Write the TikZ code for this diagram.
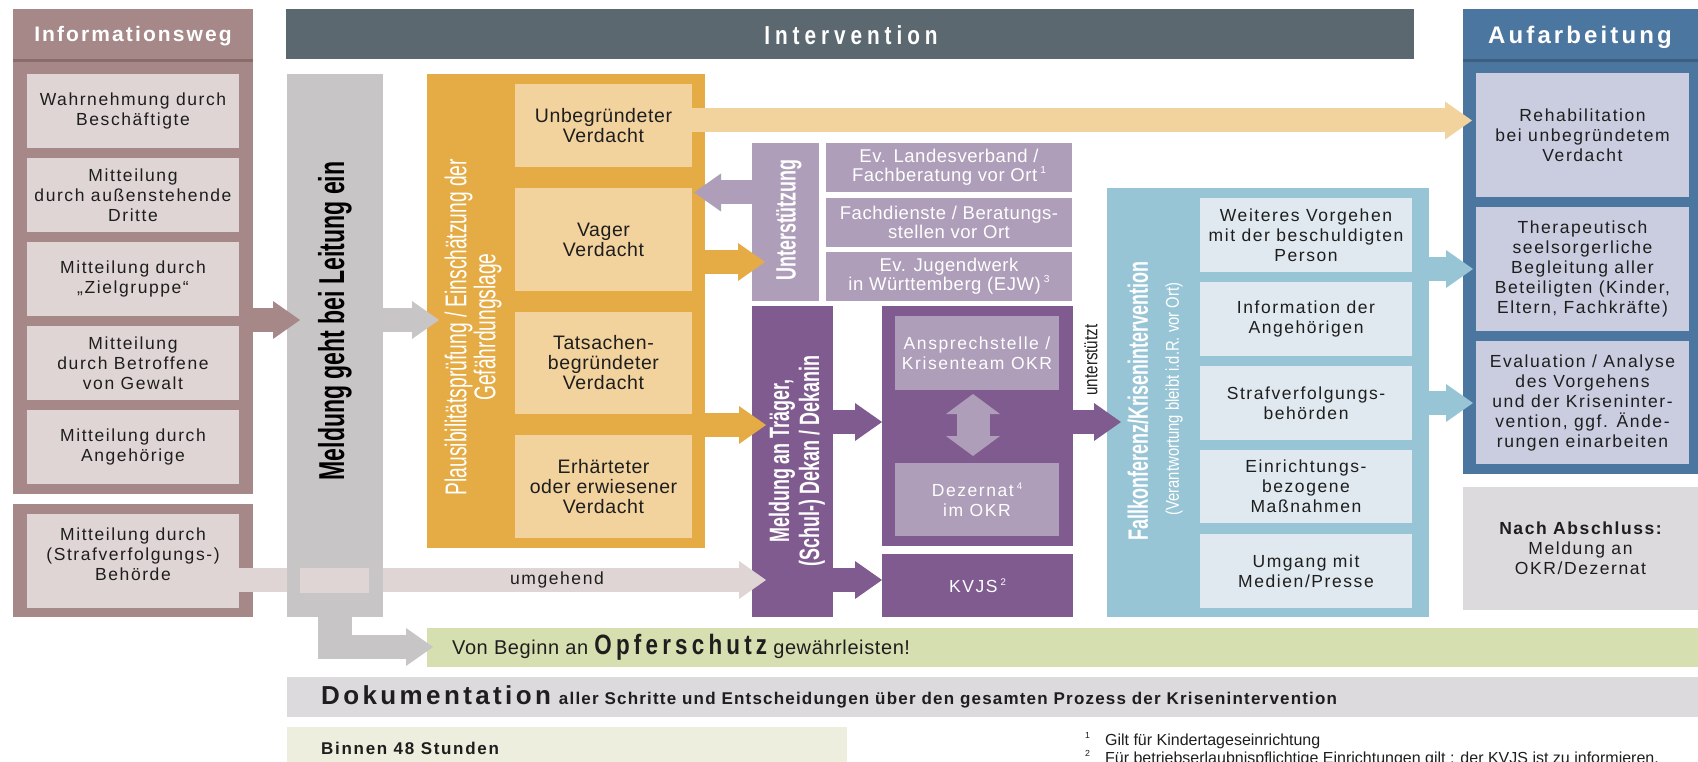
\documentclass[tikz,border=0pt]{standalone}
\usepackage{fontspec}
\setmainfont{Liberation Sans}
\newfontfamily\fA[LetterSpace=9]{Liberation Sans}
\newfontfamily\fH[LetterSpace=10]{Liberation Sans}
\newfontfamily\fK[FakeStretch=0.64]{Liberation Sans}
\newfontfamily\fM[FakeStretch=0.8]{Liberation Sans}
\newfontfamily\fT[LetterSpace=3]{Liberation Sans}
\newfontfamily\fP{Liberation Sans}
\usetikzlibrary{arrows.meta,calc}
\definecolor{mauve}{HTML}{A58887}
\definecolor{mauvedk}{HTML}{8A6C6B}
\definecolor{pinkbox}{HTML}{E0D5D5}
\definecolor{greycol}{HTML}{C8C5C7}
\definecolor{slate}{HTML}{5C6870}
\definecolor{orange1}{HTML}{E5AC46}
\definecolor{orange2}{HTML}{F2D29D}
\definecolor{lpurple}{HTML}{AE9EB9}
\definecolor{dpurple}{HTML}{805B8F}
\definecolor{lblue}{HTML}{98C5D5}
\definecolor{vlblue}{HTML}{DFE9EF}
\definecolor{dblue}{HTML}{4B76A0}
\definecolor{dbluedk}{HTML}{3D5F82}
\definecolor{lavender}{HTML}{CACCE0}
\definecolor{lgrey}{HTML}{DDDADD}
\definecolor{green1}{HTML}{D6DFB0}
\definecolor{cream}{HTML}{EDEEDE}
\definecolor{tx}{HTML}{1E1E1E}
\newcommand\sups[1]{\raisebox{0.8ex}{\scalebox{0.55}{#1}}}
\begin{document}
\begin{tikzpicture}[x=1pt,y=-1pt,
  bx/.style 2 args={anchor=north west, inner sep=0pt, outer sep=0pt, align=center, minimum width=#1, minimum height=#2},
  txt/.style={font=\fA\fontsize{17.5}{20}\selectfont, text=tx},
  wtxt/.style={font=\fA\fontsize{17.5}{20}\selectfont, text=white},
  otxt/.style={font=\fT\fontsize{19.5}{20}\selectfont, text=tx},
  evtxt/.style={font=\fT\fontsize{18.5}{19}\selectfont, text=white},
  fa/.style={line width=24pt, -{Triangle[length=27pt 0 0, width=38pt 0 0, line width=0pt 0 0]}},
  ]
\fill[white] (0,0) rectangle (1698,762);
\useasboundingbox (0,0) rectangle (1698,762);
% y levels
\coordinate (yHdr) at (0,60.5);
\coordinate (yA) at (0,320);
\coordinate (yB) at (0,120.5);
\coordinate (yC) at (0,192.5);
\coordinate (yD) at (0,262);
\coordinate (yE) at (0,425);
\coordinate (yF) at (0,422);
\coordinate (yG) at (0,580);
\coordinate (yH) at (0,269);
\coordinate (yI) at (0,403);
\coordinate (yJ) at (0,647);
% Informationsweg
\node[bx={240pt}{485pt}, fill=mauve] (infocol) at (13,9) {};
\node[font=\fH\bfseries\fontsize{21}{21}\selectfont, text=white] (infohdr) at (133,36) {Informationsweg};
\draw[mauvedk, line width=3pt] (infocol.west |- yHdr) -- (infocol.east |- yHdr);
\node[bx={212pt}{74pt}, fill=pinkbox, txt] (i1) at (27,74) {Wahrnehmung durch\\Beschäftigte};
\node[bx={212pt}{74pt}, fill=pinkbox, txt] (i2) at (27,158) {Mitteilung\\durch außenstehende\\Dritte};
\node[bx={212pt}{74pt}, fill=pinkbox, txt] (i3) at (27,242) {Mitteilung durch\\„Zielgruppe“};
\node[bx={212pt}{74pt}, fill=pinkbox, txt] (i4) at (27,326) {Mitteilung\\durch Betroffene\\von Gewalt};
\node[bx={212pt}{74pt}, fill=pinkbox, txt] (i5) at (27,410) {Mitteilung durch\\Angehörige};
\node[bx={240pt}{113pt}, fill=mauve] (behcol) at (13,504) {};
\node[bx={212pt}{94pt}, fill=pinkbox] (beh) at (27,514) {};
\node[txt, align=center] (behtxt) at (133,554) {Mitteilung durch\\(Strafverfolgungs-)\\Behörde};
% Intervention header
\node[bx={1128pt}{50pt}, fill=slate] (intbar) at (286,9) {};
\node[font=\fM\bfseries\fontsize{26}{26}\selectfont\addfontfeature{LetterSpace=19}, text=white] (inthdr) at (851,35) {Intervention};
% Orange block
\node[bx={278pt}{474pt}, fill=orange1] (plaus) at (427,74) {};
\node[rotate=90, align=center, text=white, font=\fK\fontsize{30}{29}\selectfont] (plaustxt) at (473,327) {Plausibilitätsprüfung / Einschätzung der\\Gefährdungslage};
\node[bx={177pt}{83pt}, fill=orange2, otxt] (o1) at (515,84) {Unbegründeter\\Verdacht};
\node[bx={177pt}{103pt}, fill=orange2, otxt] (o2) at (515,188) {Vager\\Verdacht};
\node[bx={177pt}{102pt}, fill=orange2, otxt] (o3) at (515,312) {Tatsachen-\\begründeter\\Verdacht};
\node[bx={177pt}{103pt}, fill=orange2, otxt] (o4) at (515,435) {Erhärteter\\oder erwiesener\\Verdacht};
% Unterstuetzung
\node[bx={67pt}{158pt}, fill=lpurple] (unt) at (752,143) {};
\node[rotate=90, text=white, font=\fK\bfseries\fontsize{28}{28}\selectfont] (unttxt) at (789,220) {Unterstützung};
\node[bx={246pt}{49pt}, fill=lpurple, evtxt] (ev1) at (826,143) {Ev. Landesverband /\\Fachberatung vor Ort\,\sups{1}};
\node[bx={246pt}{49pt}, fill=lpurple, evtxt] (ev2) at (826,198) {Fachdienste / Beratungs-\\stellen vor Ort};
\node[bx={246pt}{49pt}, fill=lpurple, evtxt] (ev3) at (826,252) {Ev. Jugendwerk\\in Württemberg (EJW)\,\sups{3}};
% Meldung an Traeger
\node[bx={81pt}{311pt}, fill=dpurple] (traeger) at (752,306) {};
\node[rotate=90, align=center, text=white, font=\fK\bfseries\fontsize{28}{30}\selectfont] (traegertxt) at (797,461) {Meldung an Träger,\\(Schul-) Dekan / Dekanin};
\node[bx={191pt}{240pt}, fill=dpurple] (okr) at (882,306) {};
\node[bx={164pt}{74pt}, fill=lpurple, wtxt] (ansp) at (895,316) {Ansprechstelle /\\Krisenteam OKR};
\node[bx={164pt}{73pt}, fill=lpurple, wtxt] (dez) at (895,463) {Dezernat\,\sups{4}\\im OKR};
\node[bx={191pt}{63pt}, fill=dpurple, wtxt] (kvjs) at (882,554) {KVJS\,\sups{2}};
% umgehend arrow (under the grey column)
\draw[fa, draw=pinkbox] (beh.east |- yG) -- ($(traeger.west |- yG)+(14,0)$);
\node[txt] (umg) at (557,580) {umgehend};
% Meldung column
\node[bx={96pt}{543pt}, fill=greycol] (meldcol) at (287,74) {};
\fill[pinkbox] ($(meldcol.west |- yG)+(13,-12.5)$) rectangle ($(meldcol.east |- yG)+(-14,12.5)$);
\node[rotate=90, text=black, font=\fK\bfseries\fontsize{36}{36}\selectfont] (meldtxt) at (335,321) {Meldung geht bei Leitung ein};
% Fallkonferenz
\node[bx={322pt}{429pt}, fill=lblue] (fall) at (1107,188) {};
\node[rotate=90, text=white, font=\fK\bfseries\fontsize{28}{28}\selectfont] (falltxt) at (1138,401) {Fallkonferenz/Krisenintervention};
\node[rotate=90, text=white, font=\fM\fontsize{18.5}{18.5}\selectfont] (verantw) at (1174,399) {(Verantwortung bleibt i.d.R. vor Ort)};
\node[bx={212pt}{74pt}, fill=vlblue, txt] (f1) at (1200,198) {Weiteres Vorgehen\\mit der beschuldigten\\Person};
\node[bx={212pt}{74pt}, fill=vlblue, txt] (f2) at (1200,282) {Information der\\Angehörigen};
\node[bx={212pt}{74pt}, fill=vlblue, txt] (f3) at (1200,366) {Strafverfolgungs-\\behörden};
\node[bx={212pt}{73pt}, fill=vlblue, txt] (f4) at (1200,450) {Einrichtungs-\\bezogene\\Maßnahmen};
\node[bx={212pt}{74pt}, fill=vlblue, txt] (f5) at (1200,534) {Umgang mit\\Medien/Presse};
\node[rotate=90, text=tx, font=\fM\fontsize{19}{19}\selectfont] (unterst) at (1091,360) {unterstützt};
% Aufarbeitung
\node[bx={235pt}{465pt}, fill=dblue] (auf) at (1463,9) {};
\node[font=\fH\bfseries\fontsize{24}{24}\selectfont\addfontfeature{LetterSpace=13}, text=white] (aufhdr) at (1580,37) {Aufarbeitung};
\draw[dbluedk, line width=3pt] (auf.west |- yHdr) -- (auf.east |- yHdr);
\node[bx={213pt}{124pt}, fill=lavender, txt] (a1) at (1476,73) {Rehabilitation\\bei unbegründetem\\Verdacht};
\node[bx={213pt}{124pt}, fill=lavender, txt] (a2) at (1476,207) {Therapeutisch\\seelsorgerliche\\Begleitung aller\\Beteiligten (Kinder,\\Eltern, Fachkräfte)};
\node[bx={213pt}{123pt}, fill=lavender, txt] (a3) at (1476,341) {Evaluation / Analyse\\des Vorgehens\\und der Kriseninter-\\vention, ggf. Ände-\\rungen einarbeiten};
\node[bx={235pt}{123pt}, fill=lgrey, txt] (nach) at (1463,487) {{\bfseries Nach Abschluss:}\\Meldung an\\OKR/Dezernat};
% Bottom bars
\node[bx={1271pt}{39pt}, fill=green1] (opfer) at (427,628) {};
\node[anchor=west, inner sep=0pt, text=tx] (opfertxt) at (452,647) {{\fT\fontsize{20}{20}\selectfont Von Beginn an }{\fM\bfseries\fontsize{28}{28}\selectfont\addfontfeature{LetterSpace=15}Opferschutz}{\fT\fontsize{20}{20}\selectfont\ gewährleisten!}};
\node[bx={1411pt}{40pt}, fill=lgrey] (dok) at (287,677) {};
\node[anchor=west, inner sep=0pt, text=tx] (doktxt) at (321,697) {{\fH\bfseries\fontsize{26}{26}\selectfont\addfontfeature{LetterSpace=13}Dokumentation}\hspace{8pt}{\fP\bfseries\fontsize{17}{17}\selectfont\addfontfeature{LetterSpace=7}aller Schritte und Entscheidungen über den gesamten Prozess der Krisenintervention}};
\node[bx={560pt}{40pt}, fill=cream] (binnen) at (287,727) {};
\node[anchor=west, inner sep=0pt, text=tx, font=\fH\bfseries\fontsize{17}{17}\selectfont] (binnentxt) at (321,748) {Binnen 48 Stunden};
\node[anchor=base west, inner sep=0pt, text=tx, font=\fP\fontsize{16}{19}\selectfont] (fn1) at (1085,745) {\sups{1}\hspace{15pt}Gilt für Kindertageseinrichtung};
\node[anchor=base west, inner sep=0pt, text=tx, font=\fP\fontsize{16}{19}\selectfont] (fn2) at (1085,763) {\sups{2}\hspace{15pt}Für betriebserlaubnispflichtige Einrichtungen gilt : der KVJS ist zu informieren,};
% Arrows
\draw[fa, draw=mauve] (infocol.east |- yA) -- ($(meldcol.west |- yA)+(13,0)$);
\draw[fa, draw=greycol] (meldcol.east |- yA) -- ($(plaus.west |- yA)+(12,0)$);
\draw[fa, draw=orange2] (o1.east |- yB) -- ($(a1.west |- yB)+(-4,0)$);
\draw[fa, draw=lpurple] (unt.west |- yC) -- ($(o2.east |- yC)+(2,0)$);
\draw[fa, draw=orange1] (plaus.east |- yD) -- ($(unt.west |- yD)+(13,0)$);
\draw[fa, draw=orange1] (plaus.east |- yE) -- ($(traeger.west |- yE)+(14,0)$);
\draw[fa, draw=dpurple] (traeger.east |- yF) -- (okr.west |- yF);
\draw[fa, draw=dpurple] (traeger.east |- yG) -- (kvjs.west |- yG);
\draw[fa, draw=dpurple] (okr.east |- yF) -- ($(fall.west |- yF)+(14,0)$);
\draw[fa, draw=lblue] (fall.east |- yH) -- ($(a2.west |- yH)+(-3,0)$);
\draw[fa, draw=lblue] (fall.east |- yI) -- ($(a3.west |- yI)+(-3,0)$);
\draw[line width=33pt, draw=lpurple, {Triangle[length=20pt 0 0,width=54pt 0 0,line width=0pt 0 0]}-{Triangle[length=20pt 0 0,width=54pt 0 0,line width=0pt 0 0]}] ($(ansp.south)+(-4,4)$) -- ($(dez.north)+(-4,-7)$);
\fill[greycol] ($(meldcol.south)+(-17,0)$) rectangle ($(meldcol.south |- yJ)+(17,12)$);
\draw[fa, draw=greycol] ($(meldcol.south |- yJ)+(-17,0)$) -- ($(opfer.west |- yJ)+(6,0)$);
\end{tikzpicture}
\end{document}
